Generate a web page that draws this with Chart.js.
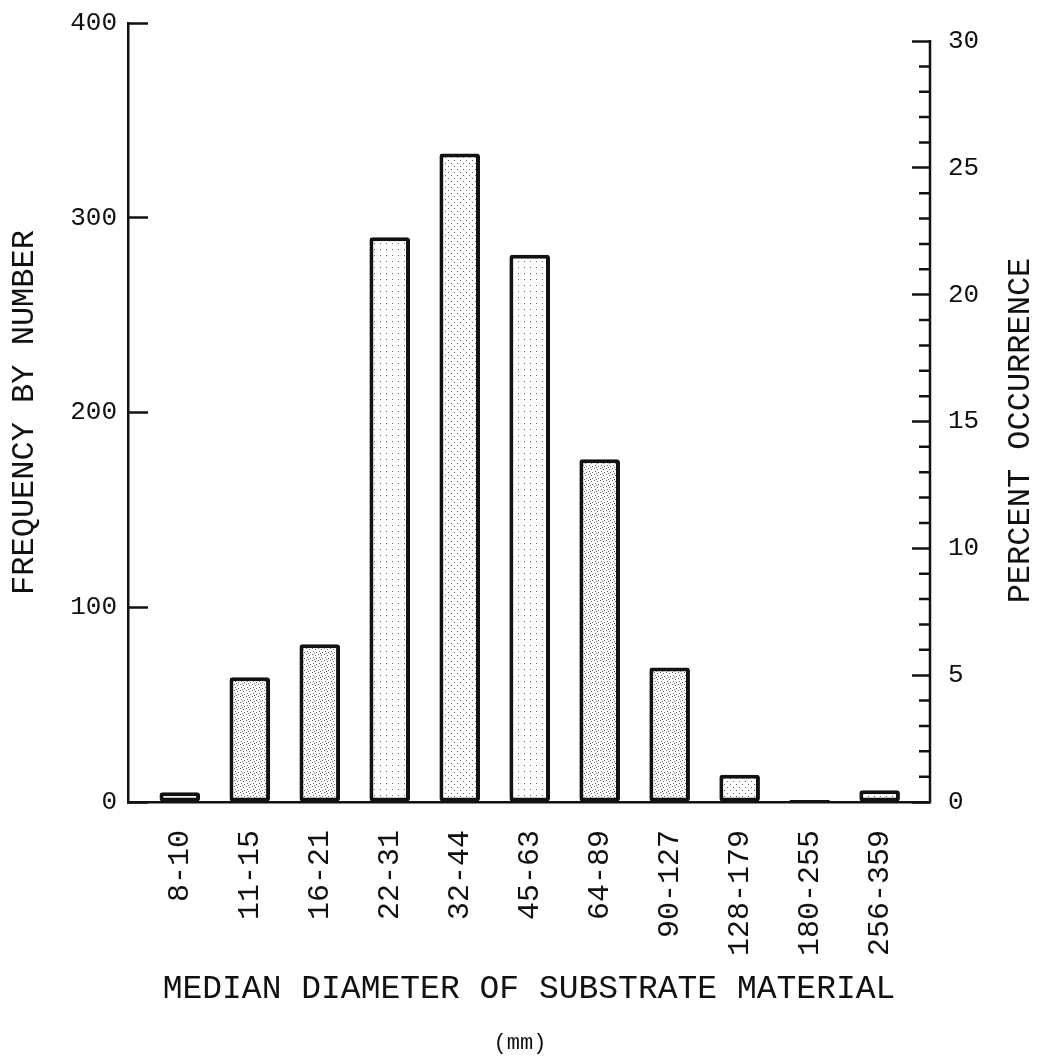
<!DOCTYPE html>
<html>
<head>
<meta charset="utf-8">
<title>Median diameter of substrate material</title>
<script src="https://cdn.jsdelivr.net/npm/chart.js@4.4.1/dist/chart.umd.min.js"></script>
<style>
  html, body { margin: 0; padding: 0; background: #fff; }
  #wrap { width: 1040px; height: 1059px; }
</style>
</head>
<body>
<div id="wrap"><canvas id="grain-chart" width="1040" height="1059"></canvas></div>
<script>
/* ---- data ---- */
const sizeClasses = ['8-10', '11-15', '16-21', '22-31', '32-44', '45-63', '64-89', '90-127', '128-179', '180-255', '256-359'];
const frequency = [5, 64, 81, 290, 333, 281, 176, 69, 14, 1, 6];
const percentLabels = [0, 5, 10, 15, 20, 25, 30];

const INK = '#111';
const FONT = '"Liberation Mono", "DejaVu Sans Mono", monospace';

Chart.defaults.font.family = FONT;
Chart.defaults.color = INK;

/* stippled fills, like the dot screen of the original */
const canvas = document.getElementById('grain-chart');
const mainCtx = canvas.getContext('2d');

function stipple(dots) {
    const c = document.createElement('canvas');
    c.width = 6;
    c.height = 6;
    const g = c.getContext('2d');
    g.fillStyle = '#fff';
    g.fillRect(0, 0, 6, 6);
    g.fillStyle = 'rgba(0,0,0,0.6)';
    dots.forEach(([x, y]) => g.fillRect(x, y, 1, 1));
    return mainCtx.createPattern(c, 'repeat');
}

const dense = stipple([[0, 0], [3, 1], [1, 3], [4, 4], [2, 5]]);
const light = stipple([[1, 1], [4, 4]]);
const faint = stipple([[2, 3]]);
const barFills = ['#fff', dense, dense, faint, light, faint, dense, dense, light, INK, light];

/* the big tick padding (inward ticks) must not push the chart area in */
function noScalePadding(s) {
    s.paddingTop = 0;
    s.paddingBottom = 0;
    s.paddingLeft = 0;
    s.paddingRight = 0;
}

/* right hand axis line, minor ticks and the bottom-to-top title */
const axisExtras = {
    id: 'axisExtras',
    afterDraw(chart) {
        const {ctx, chartArea, scales} = chart;
        const pct = scales.yPct;
        const x = pct.left;
        ctx.save();
        ctx.strokeStyle = INK;
        ctx.lineWidth = 2.5;
        ctx.beginPath();
        ctx.moveTo(x, pct.getPixelForValue(0) + 1);
        ctx.lineTo(x, pct.getPixelForValue(30) - 1);
        for (let v = 1; v < 30; v++) {
            if (v % 5 === 0) continue;
            const y = pct.getPixelForValue(v);
            ctx.moveTo(x, y);
            ctx.lineTo(x - 11, y);
        }
        ctx.stroke();

        ctx.translate(1021, (chartArea.top + chartArea.bottom) / 2 + 18);
        ctx.rotate(-Math.PI / 2);
        ctx.font = '32px ' + FONT;
        ctx.fillStyle = INK;
        ctx.textAlign = 'center';
        ctx.textBaseline = 'middle';
        ctx.fillText('PERCENT OCCURRENCE', 0, 0);
        ctx.restore();
    }
};

const chart = new Chart(canvas, {
    type: 'bar',
    data: {
        datasets: [{
            label: 'Frequency',
            data: frequency.map((v, i) => ({x: i, y: v})),
            backgroundColor: barFills,
            borderColor: INK,
            borderWidth: 4,
            borderSkipped: false,
            borderRadius: 3,
            categoryPercentage: 1,
            barPercentage: 0.58,
            yAxisID: 'y'
        }]
    },
    options: {
        responsive: false,
        animation: false,
        layout: { padding: { top: 23, left: 0, right: 0, bottom: 0 } },
        plugins: {
            legend: { display: false },
            tooltip: { enabled: false },
            title: {
                display: true,
                position: 'bottom',
                text: '(mm)',
                color: INK,
                font: { family: FONT, size: 22, weight: 'normal' },
                padding: { top: 0, bottom: 3 }
            }
        },
        scales: {
            x: {
                type: 'linear',
                bounds: 'data',
                offset: false,
                min: -0.74,
                max: 10.72,
                grid: { display: false, drawTicks: false, offset: false },
                border: { color: INK, width: 2.5 },
                afterBuildTicks: (s) => { s.ticks = sizeClasses.map((_, i) => ({value: i})); },
                ticks: {
                    autoSkip: false,
                    minRotation: 90,
                    maxRotation: 90,
                    padding: 28,
                    font: { size: 30 },
                    callback: (v) => sizeClasses[v] ?? ''
                },
                title: {
                    display: true,
                    text: 'MEDIAN DIAMETER OF SUBSTRATE MATERIAL',
                    font: { size: 33 },
                    padding: { top: 0, bottom: 21 }
                },
                afterFit: (s) => { s.height = 1059 - 29.4 - 802; noScalePadding(s); }
            },
            y: {
                position: 'left',
                min: 0,
                max: 400,
                grid: { drawOnChartArea: false, tickLength: -20, tickWidth: 2.5, tickColor: INK },
                border: { color: INK, width: 2.5 },
                ticks: { stepSize: 100, padding: 31, font: { size: 26 } },
                title: {
                    display: true,
                    text: 'FREQUENCY BY NUMBER',
                    font: { size: 32 },
                    padding: { top: 5, bottom: 0 }
                },
                afterFit: (s) => { s.width = 128; noScalePadding(s); }
            },
            yPct: {
                position: 'right',
                bounds: 'data',
                min: 0,
                max: 30.71,
                grid: { drawOnChartArea: false, tickLength: -18, tickWidth: 2.5, tickColor: INK },
                border: { display: false },
                ticks: {
                    stepSize: 5,
                    includeBounds: false,
                    padding: 36,
                    font: { size: 26 },
                    callback: (v) => percentLabels.includes(v) ? String(v) : ''
                },
                afterFit: (s) => { s.width = 110; noScalePadding(s); }
            }
        }
    },
    plugins: [axisExtras]
});
</script>
</body>
</html>
